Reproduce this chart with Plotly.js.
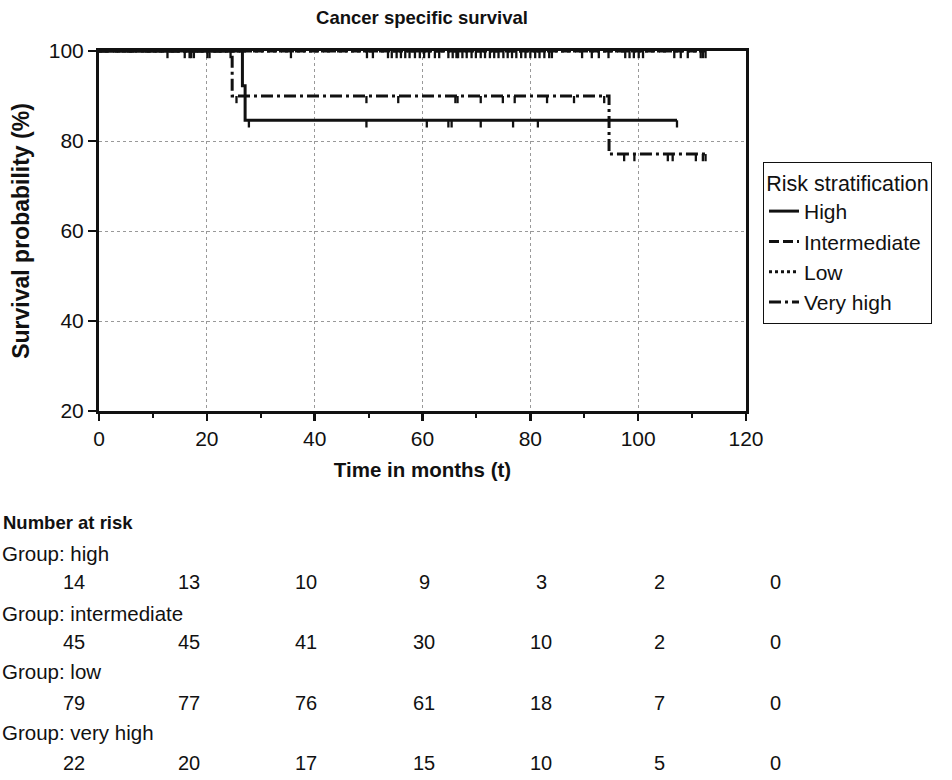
<!DOCTYPE html>
<html>
<head>
<meta charset="utf-8">
<script src="https://cdn.plot.ly/plotly-3.0.1.min.js"></script>
<style>html,body{margin:0;padding:0;background:#fff;}#chart{width:952px;height:780px;}</style>
</head>
<body>
<div id="chart"></div>
<script>
// ---- Data ----
const seriesNames = ['High', 'Intermediate', 'Low', 'Very high'];
const groupLabels = ['Group: high', 'Group: intermediate', 'Group: low', 'Group: very high'];
const riskTimes = [0, 20, 40, 60, 80, 100, 120];

// Kaplan-Meier steps: event times and survival (%) after each step
const highTimes = [0, 26.6, 27.1];
const highSurv = [100, 92.3, 84.6];
const highEnd = 107.2;
const highCensor = [15.9, 27.8, 49.6, 60.8, 64.8, 65.4, 70.8, 76.8, 81.4, 107.2];

const interTimes = [0];
const interSurv = [100];
const interEnd = 112.5;
const interCensor = [20.1, 20.5, 24.4, 50.8, 54.3, 56.0, 57.6, 59.5, 61.2, 63.1, 65.6, 66.6, 68.2, 69.9, 71.6, 73.3, 75.0, 76.6, 78.3, 80.0, 81.7, 83.5, 89.6, 92.7, 97.6, 99.2, 100.9, 107.9, 112.0];

const lowTimes = [0];
const lowSurv = [100];
const lowEnd = 112.5;
const lowCensor = [16.8, 17.6, 35.6, 49.7, 53.6, 55.2, 56.8, 58.6, 60.3, 62.3, 64.8, 66.3, 67.4, 69.1, 70.8, 72.5, 74.1, 75.8, 77.4, 79.1, 80.9, 82.6, 84.0, 91.4, 94.5, 98.4, 100.1, 106.7, 109.2, 111.6, 112.5];

const vhighTimes = [0, 24.7, 94.6];
const vhighSurv = [100, 90.0, 77.1];
const vhighEnd = 112.5;
const vhighCensor = [12.7, 17.1, 25.5, 49.6, 55.5, 66.1, 66.5, 70.8, 74.9, 77.1, 83.1, 88.1, 93.7, 97.4, 99.3, 105.5, 106.4, 110.7, 112.0, 112.5];

const riskHigh = [14, 13, 10, 9, 3, 2, 0];
const riskInter = [45, 45, 41, 30, 10, 2, 0];
const riskLow = [79, 77, 76, 61, 18, 7, 0];
const riskVhigh = [22, 20, 17, 15, 10, 5, 0];

// ---- Build ----
const FONT = 'Liberation Sans, Arial, sans-serif';
const INK = '#111';
const dashes = ['solid', '10px,4px', '3px,3px', '12px,4px,3px,4px'];
const curves = [
  [highTimes, highSurv, highEnd, highCensor],
  [interTimes, interSurv, interEnd, interCensor],
  [lowTimes, lowSurv, lowEnd, lowCensor],
  [vhighTimes, vhighSurv, vhighEnd, vhighCensor]
];
function survAt(times, surv, t) {
  let s = surv[0];
  for (let i = 0; i < times.length; i++) if (times[i] <= t) s = surv[i];
  return s;
}
const traces = [];
curves.forEach((c, i) => {
  const [tt, ss, end] = c;
  traces.push({
    type: 'scatter', mode: 'lines', name: seriesNames[i],
    x: tt.concat([end]), y: ss.concat([ss[ss.length - 1]]),
    line: {shape: 'hv', color: INK, width: 3, dash: dashes[i]},
    hoverinfo: 'skip'
  });
});
curves.forEach((c, i) => {
  const [tt, ss, end, cens] = c;
  traces.push({
    type: 'scatter', mode: 'markers', showlegend: false,
    x: cens, y: cens.map(t => survAt(tt, ss, t)),
    marker: {size: 1, color: 'rgba(0,0,0,0)'},
    error_y: {type: 'constant', symmetric: false, value: 0, valueminus: 1.6, width: 0, thickness: 2.3, color: INK},
    hoverinfo: 'skip'
  });
});

// layout geometry (pixels)
const L = 99, R = 206, T = 51, B = 369, W = 952, H = 780;
const pw = W - L - R, ph = H - T - B;
const px2x = p => (p - L) / pw;
const py2y = p => (H - B - p) / ph;

const TXT = 20;
const annotations = [];
annotations.push({text: '<b>Number at risk</b>', x: px2x(1), y: py2y(522), xref: 'paper', yref: 'paper', xanchor: 'left', yanchor: 'middle', showarrow: false, font: {size: 18.5, family: FONT, color: INK}});
const risks = [riskHigh, riskInter, riskLow, riskVhigh];
const colPx = [74, 189, 306, 424, 541, 659, 776];
const labelY = [553, 613, 671, 732];
const numY = [582, 642, 703, 763];
risks.forEach((r, g) => {
  annotations.push({text: groupLabels[g], x: px2x(0), y: py2y(labelY[g]), xref: 'paper', yref: 'paper', xanchor: 'left', yanchor: 'middle', showarrow: false, font: {size: 20.5, family: FONT, color: INK}});
  r.forEach((v, k) => {
    annotations.push({text: String(v), x: px2x(colPx[k]), y: py2y(numY[g]), xref: 'paper', yref: 'paper', xanchor: 'center', yanchor: 'middle', showarrow: false, font: {size: TXT, family: FONT, color: INK}});
  });
});

const layout = {
  width: W, height: H,
  margin: {l: L, r: R, t: T, b: B},
  paper_bgcolor: '#fff', plot_bgcolor: '#fff',
  font: {family: FONT, size: TXT, color: INK},
  title: {text: '<b>Cancer specific survival</b>', x: px2x(422), xref: 'paper', xanchor: 'center', y: 1 - 18 / H, yref: 'container', yanchor: 'middle', font: {size: 18.5, family: FONT, color: INK}},
  xaxis: {
    range: [0, 120], tickvals: riskTimes, ticks: 'outside', ticklen: 7, tickwidth: 2.5, tickcolor: INK,
    showline: true, linewidth: 3, linecolor: INK, mirror: true, zeroline: false,
    showgrid: true, gridcolor: '#999', griddash: 'dot', gridwidth: 1,
    minor: {dtick: 10, ticks: 'outside', ticklen: 4, tickwidth: 2, tickcolor: INK, showgrid: false},
    tickfont: {size: 21, family: FONT, color: INK},
    title: {text: '<b>Time in months (t)</b>', standoff: 14, font: {size: 20.5, family: FONT, color: INK}}
  },
  yaxis: {
    range: [20, 100], dtick: 20, ticks: 'outside', ticklen: 8, tickwidth: 2.5, tickcolor: INK,
    showline: true, linewidth: 3, linecolor: INK, mirror: true, zeroline: false,
    showgrid: true, gridcolor: '#999', griddash: 'dot', gridwidth: 1,
    tickfont: {size: 21, family: FONT, color: INK},
    title: {text: '<b>Survival probability (%)</b>', standoff: 13, font: {size: 23, family: FONT, color: INK}}
  },
  legend: {
    x: px2x(763), y: py2y(162), xref: 'paper', yref: 'paper', xanchor: 'left', yanchor: 'top',
    bordercolor: INK, borderwidth: 1, bgcolor: '#fff',
    font: {size: 21, family: FONT, color: INK},
    title: {text: 'Risk stratification', side: 'top center', font: {size: 21.5, family: FONT, color: INK}},
    itemwidth: 30, tracegroupgap: 0
  },
  annotations: annotations,
  showlegend: true
};

Plotly.newPlot('chart', traces, layout, {staticPlot: true, displayModeBar: false});
</script>
</body>
</html>
